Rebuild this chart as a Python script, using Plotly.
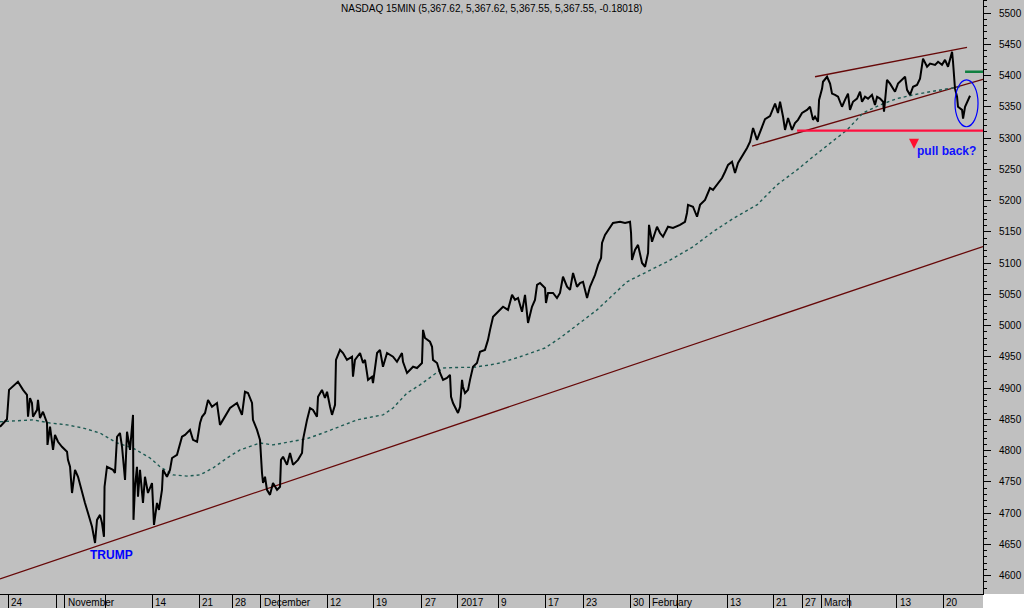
import plotly.graph_objects as go

# ---- data (x = trading-session position, day 0 = Oct 24 2016 open) ----
PRICE_X = [-0.85, -0.11, 0.11, 1.06, 1.60, 2.02, 2.13, 2.34, 2.55, 2.66, 3.09, 3.19, 3.40, 3.72, 4.15, 4.20,
           4.47, 4.79, 5.00, 5.32, 5.74, 6.28, 6.38, 6.60, 6.81, 7.13, 7.45, 7.87, 8.19, 8.51, 8.94, 9.26,
           9.47, 9.79, 10.00, 10.21, 10.27, 10.53, 11.17, 11.38, 11.60, 11.91, 12.13, 12.45, 12.66, 12.98,
           13.30, 13.35, 13.51, 13.72, 13.83, 14.04, 14.36, 14.57, 14.89, 15.32, 15.53, 15.85, 16.06, 16.38,
           16.49, 16.91, 17.23, 17.45, 17.98, 18.51, 18.83, 19.36, 19.68, 20.11, 20.43, 20.64, 20.96, 21.28,
           21.70, 22.23, 22.55, 22.87, 23.62, 24.36, 24.89, 25.21, 25.53,
           25.96, 26.06, 26.49, 26.81, 27.02, 27.13, 27.34, 27.55, 27.87, 28.19, 28.62, 28.94, 29.04, 29.26,
           29.68, 30.00, 30.32, 30.85, 31.28, 31.38, 31.81, 32.13, 32.45, 32.87, 32.98, 33.40, 33.72, 33.94,
           34.26, 34.47, 34.79, 34.89, 35.32, 35.64, 36.06, 36.60, 36.70, 36.91, 37.45, 37.77, 37.98, 38.30,
           38.72, 38.83, 39.26, 39.57, 39.89, 40.32, 40.96, 41.38, 41.91, 42.02, 42.45, 42.77, 43.09, 43.51,
           44.04, 44.15, 44.36, 44.89, 45.11, 45.21, 45.64, 45.96, 46.28, 46.70, 47.02, 47.13, 47.34, 47.87,
           48.09, 48.30, 48.40, 48.62, 48.94, 49.15, 49.47, 49.89, 50.21, 50.74, 51.06, 51.28,
           51.60, 52.13, 52.66, 53.19, 53.62, 53.94, 54.26, 54.68, 55.00, 55.32, 55.74, 56.06, 56.28, 56.60,
           57.13, 57.23, 57.45, 57.98, 58.40, 58.72, 59.04, 59.47, 59.79, 60.11, 60.53, 60.85, 61.17, 61.60,
           61.91, 62.45, 62.77, 63.09, 63.19, 63.51, 64.04, 64.36, 65.11, 65.64, 66.17, 66.28, 66.38, 66.70,
           67.02, 67.45, 67.77, 68.09, 68.19, 68.51, 69.04, 69.36, 69.68, 70.21, 70.74, 71.49, 72.02, 72.23,
           72.34, 72.87, 73.30, 73.62, 74.15, 74.68, 75.00, 75.43, 75.96, 76.28, 76.60, 77.02, 77.34, 77.66,
           78.09, 78.62, 78.94, 79.26, 79.68, 80.00, 80.53, 81.06, 81.60, 81.91,
           82.13, 82.45, 82.66, 82.98, 83.40, 83.72, 84.04, 84.47, 85.00, 85.32, 85.64, 85.85, 86.17, 86.28,
           86.60, 86.70, 87.13, 87.45, 87.66, 87.98, 88.30, 88.51, 88.72, 89.04, 89.36, 89.57, 89.89, 90.32,
           90.64, 90.85, 91.17, 91.49, 91.91, 92.23, 92.45, 92.77, 93.09, 93.19, 93.51, 93.83, 94.15, 94.36,
           94.68, 95.11, 95.43, 95.64, 95.96, 96.28, 96.70, 97.02, 97.23, 97.34, 97.77, 98.09, 98.62, 98.94,
           99.36, 99.68, 100.00, 100.43, 100.53, 100.64, 100.74, 100.96, 101.06, 101.49, 101.60, 101.81,
           102.13, 102.34]
PRICE_Y = [4838, 4850, 4897, 4910, 4897, 4889, 4854, 4884, 4876, 4854, 4865, 4881, 4852, 4862, 4844, 4809,
           4838, 4801, 4825, 4814, 4806, 4798, 4785, 4774, 4732, 4769, 4758, 4732, 4716, 4700, 4678, 4652,
           4689, 4697, 4684, 4662, 4742, 4774, 4769, 4764, 4822, 4828, 4806, 4753, 4830, 4801,
           4857, 4689, 4742, 4774, 4726, 4769, 4716, 4758, 4732, 4748, 4681, 4716, 4705, 4737,
           4769, 4758, 4769, 4788, 4793, 4822, 4825, 4833, 4817, 4814, 4844, 4854, 4860, 4881,
           4870, 4876, 4841, 4849, 4868, 4876, 4857, 4894, 4892,
           4876, 4849, 4833, 4817, 4764, 4748, 4758, 4737, 4729, 4748, 4737, 4742, 4785, 4790,
           4777, 4796, 4777, 4785, 4796, 4817, 4849, 4868, 4865, 4854, 4886, 4897, 4884, 4894,
           4870, 4857, 4873, 4945, 4961, 4956, 4945, 4950, 4918, 4945, 4956, 4940, 4945, 4913,
           4918, 4908, 4956, 4961, 4934, 4956, 4950, 4942, 4956, 4942, 4924, 4929, 4934, 4932,
           4940, 4993, 4980, 4974, 4966, 4945, 4940, 4924, 4913, 4916, 4921, 4886, 4876, 4860,
           4870, 4913, 4902, 4892, 4897, 4913, 4934, 4940, 4958, 4961, 4977, 4993,
           5014, 5022, 5030, 5025, 5049, 5041, 5044, 5022, 5049, 5004, 5030, 5041, 5065, 5068,
           5060, 5036, 5052, 5052, 5044, 5052, 5078, 5062, 5057, 5084, 5062, 5068, 5070, 5044,
           5062, 5081, 5097, 5108, 5132, 5145, 5158, 5164, 5166, 5164, 5166, 5148, 5105, 5121,
           5129, 5100, 5094, 5116, 5161, 5134, 5158, 5148, 5142, 5158, 5156, 5161, 5166, 5180,
           5193, 5190, 5174, 5193, 5201, 5220, 5217, 5225, 5236, 5246, 5257, 5262, 5244, 5260,
           5270, 5284, 5294, 5316, 5297, 5310, 5330, 5335, 5355, 5340,
           5358, 5334, 5313, 5332, 5313, 5324, 5329, 5340, 5345, 5350, 5329, 5334, 5326, 5361,
           5379, 5390, 5398, 5387, 5371, 5369, 5366, 5358, 5350, 5361, 5371, 5345, 5358, 5363,
           5374, 5358, 5366, 5363, 5369, 5353, 5366, 5363, 5358, 5342, 5393, 5387, 5379, 5374,
           5387, 5393, 5398, 5377, 5369, 5382, 5385, 5395, 5419, 5427, 5414, 5419, 5417, 5422,
           5417, 5425, 5414, 5438, 5422, 5403, 5379, 5366, 5350, 5345, 5331, 5350,
           5361, 5367.55]

MA_X = [-0.85, 2.66, 4.47, 6.28, 7.98, 9.79, 11.60, 13.30, 15.11, 16.17, 17.55, 19.04, 20.43, 21.81, 23.30,
        24.68, 26.81, 28.19, 29.68, 31.81, 33.51, 35.32, 37.13, 38.83, 39.89, 40.96, 42.45, 43.83, 45.21,
        46.28, 48.09, 49.47, 51.28, 52.34, 54.47, 57.13, 58.72, 60.11, 62.66, 65.85, 67.98, 70.11, 72.87,
        75.00, 77.13, 79.68, 81.81, 83.94, 85.64, 87.45, 89.26, 90.96, 92.77, 94.57, 96.28, 98.09, 99.89,
        101.28]
MA_Y = [4846, 4849, 4844, 4841, 4836, 4828, 4812, 4804, 4788, 4774, 4761, 4759, 4761, 4772, 4788,
        4801, 4812, 4809, 4813, 4819, 4828, 4838, 4849, 4854, 4857, 4868, 4892, 4905, 4921,
        4932, 4933, 4933, 4937, 4940, 4950, 4964, 4980, 4996, 5025, 5070, 5086, 5102, 5126,
        5150, 5171, 5193, 5225, 5249, 5270, 5292, 5313, 5340, 5353, 5363, 5369, 5374, 5379,
        5382]

TICK_POS = [0, 5.21, 6.06, 10.32, 15.32, 20.32, 23.83, 26.91, 28.83, 33.94, 38.83, 44.04, 47.87, 52.13,
            57.13, 61.17, 66.17, 68.19, 71.17, 76.49, 81.38, 84.47, 86.49, 89.47, 94.57, 99.47]
TICK_TEXT = ["24", "", "November", "", "14", "21", "28", "December", "", "12", "19", "27", "2017", "9",
             "17", "23", "30", "February", "", "13", "21", "27", "March", "", "13", "20"]

LONG_TREND_X = [-0.85, 103.72]
LONG_TREND_Y = [4594.4, 5126.4]
CHAN_UP_X = [85.85, 102.02]
CHAN_UP_Y = [5398, 5445]
CHAN_LO_X = [79.15, 103.72]
CHAN_LO_Y = [5287, 5394]
SUPPORT_X = [83.94, 103.72]
SUPPORT_Y = [5311.7, 5311.7]
TARGET_X = [101.81, 103.72]
TARGET_Y = [5406, 5406]
ELLIPSE_X = [100.74, 103.19]
ELLIPSE_Y = [5318, 5393]

TITLE = "NASDAQ 15MIN (5,367.62, 5,367.62, 5,367.55, 5,367.55, -0.18018)"

X_RANGE = [-0.851, 103.72]
Y_RANGE = [4570.4, 5520.8]

FONT = "Arial, Liberation Sans, sans-serif"
BG = "#c0c0c0"
MAROON = "#660808"

fig = go.Figure()

for xs, ys in [(LONG_TREND_X, LONG_TREND_Y), (CHAN_UP_X, CHAN_UP_Y), (CHAN_LO_X, CHAN_LO_Y)]:
    fig.add_trace(go.Scatter(x=xs, y=ys, mode="lines", line=dict(color=MAROON, width=1.3),
                             hoverinfo="skip", showlegend=False))

fig.add_trace(go.Scatter(x=MA_X, y=MA_Y, mode="lines", line=dict(color="#1d5a52", width=1.4, dash="3px,3px"),
                         showlegend=False))

fig.add_trace(go.Scatter(x=PRICE_X, y=PRICE_Y, mode="lines", line=dict(color="black", width=2),
                         showlegend=False))

fig.add_trace(go.Scatter(x=SUPPORT_X, y=SUPPORT_Y, mode="lines", line=dict(color="#ff1040", width=2.2),
                         showlegend=False))
fig.add_trace(go.Scatter(x=TARGET_X, y=TARGET_Y, mode="lines", line=dict(color="#108040", width=2.5),
                         showlegend=False))

fig.add_shape(type="circle", xref="x", yref="y", x0=ELLIPSE_X[0], x1=ELLIPSE_X[1],
              y0=ELLIPSE_Y[0], y1=ELLIPSE_Y[1], line=dict(color="#0000ff", width=1.2))

# white lower-right corner
fig.add_shape(type="rect", xref="paper", yref="paper", x0=1.0, x1=1.06, y0=-0.05, y1=0,
              fillcolor="white", line=dict(width=0), layer="below")

annotations = []
annotations.append(dict(text=TITLE, xref="paper", yref="paper", x=0.5, y=1, yshift=-8,
                        xanchor="center", yanchor="middle", showarrow=False,
                        font=dict(family=FONT, size=10, color="black")))
for p, t in zip(TICK_POS, TICK_TEXT):
    if t:
        annotations.append(dict(text=t, xref="x", yref="paper", x=p, y=0, xanchor="left", yanchor="top",
                                xshift=1, yshift=-1, showarrow=False,
                                font=dict(family=FONT, size=10, color="black")))
annotations.append(dict(text="<b>TRUMP</b>", xref="x", yref="y", x=11.06, y=4633, showarrow=False,
                        xanchor="center", yanchor="middle",
                        font=dict(family=FONT, size=12, color="#0000ff")))
annotations.append(dict(text="<b>pull back?</b>", xref="x", yref="y", x=96.5, y=5279, showarrow=False,
                        xanchor="left", yanchor="middle",
                        font=dict(family=FONT, size=12, color="#1010ff")))
annotations.append(dict(text="", xref="x", yref="y", x=96.38, y=5283, ax=0, ay=-10, showarrow=True,
                        arrowhead=2, arrowsize=1, arrowwidth=2, arrowcolor="#ff1030"))

fig.update_layout(
    width=1024, height=608,
    margin=dict(l=0, r=41, t=0, b=14, pad=0),
    paper_bgcolor=BG, plot_bgcolor=BG,
    showlegend=False,
    annotations=annotations,
    xaxis=dict(range=X_RANGE, showgrid=False, zeroline=False, showline=True, linecolor="black", linewidth=1,
               tickmode="array", tickvals=TICK_POS, ticks="outside", ticklen=14, tickcolor="black",
               tickwidth=1, showticklabels=False, fixedrange=True),
    yaxis=dict(range=Y_RANGE, side="right", showgrid=False, zeroline=False, showline=True, linecolor="black",
               linewidth=1, tick0=0, dtick=50, ticks="outside", ticklen=7, tickcolor="black",
               tickfont=dict(family=FONT, size=10, color="black"), ticklabelstandoff=6,
               minor=dict(dtick=10, ticks="outside", ticklen=3, tickcolor="black"), fixedrange=True),
)

fig.write_html("out.html", config={"displayModeBar": False},
               post_script="document.body.style.margin='0';document.body.style.overflow='hidden';")
